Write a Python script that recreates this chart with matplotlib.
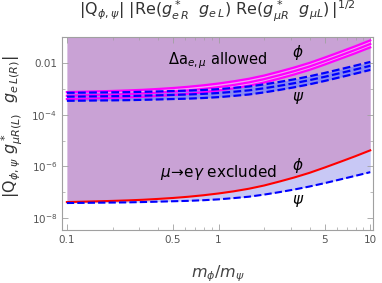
import numpy as np
import matplotlib
matplotlib.use("Agg")
from matplotlib import pyplot as plt
from matplotlib.ticker import FixedLocator, NullFormatter

plt.rcParams['font.family'] = ['DejaVu Sans']
plt.rcParams['mathtext.fontset'] = 'dejavusans'

# mass ratio m_phi / m_psi
ratio = [0.1, 0.126, 0.158, 0.2, 0.251, 0.316, 0.398, 0.501, 0.631, 0.794, 1.0,
         1.259, 1.585, 1.995, 2.512, 3.162, 3.981, 5.012, 6.31, 7.943, 10.0]

# mu -> e gamma bounds (lower curves)
meg_phi = [4.13e-8, 4.27e-8, 4.42e-8, 4.59e-8, 4.80e-8, 5.07e-8, 5.47e-8, 5.96e-8, 6.64e-8, 7.59e-8, 8.91e-8,
           1.08e-7, 1.36e-7, 1.81e-7, 2.57e-7, 3.72e-7, 5.62e-7, 9.02e-7, 1.48e-6, 2.45e-6, 4.17e-6]
meg_psi = [3.80e-8, 3.85e-8, 3.91e-8, 3.96e-8, 4.02e-8, 4.14e-8, 4.29e-8, 4.45e-8, 4.61e-8, 4.88e-8, 5.27e-8,
           5.89e-8, 6.68e-8, 8.04e-8, 1.00e-7, 1.27e-7, 1.66e-7, 2.24e-7, 3.09e-7, 4.27e-7, 5.96e-7]

# Delta a_{e,mu} allowed bands (upper curves): low / mid / high
da_phi_lo = [4.04e-4, 4.17e-4, 4.32e-4, 4.49e-4, 4.69e-4, 4.95e-4, 5.35e-4, 5.82e-4, 6.49e-4, 7.42e-4, 8.71e-4,
             1.055e-3, 1.33e-3, 1.77e-3, 2.51e-3, 3.64e-3, 5.49e-3, 8.81e-3, 1.45e-2, 2.39e-2, 4.07e-2]
da_phi_mid = [5.44e-4, 5.63e-4, 5.83e-4, 6.05e-4, 6.33e-4, 6.68e-4, 7.21e-4, 7.86e-4, 8.75e-4, 1.00e-3, 1.175e-3,
              1.42e-3, 1.79e-3, 2.39e-3, 3.39e-3, 4.90e-3, 7.41e-3, 1.19e-2, 1.95e-2, 3.23e-2, 5.50e-2]
da_phi_hi = [7.52e-4, 7.77e-4, 8.04e-4, 8.35e-4, 8.73e-4, 9.23e-4, 9.95e-4, 1.085e-3, 1.21e-3, 1.38e-3, 1.62e-3,
             1.97e-3, 2.47e-3, 3.29e-3, 4.68e-3, 6.77e-3, 1.02e-2, 1.64e-2, 2.69e-2, 4.46e-2, 7.59e-2]
da_psi_lo = [3.47e-4, 3.51e-4, 3.57e-4, 3.61e-4, 3.67e-4, 3.78e-4, 3.91e-4, 4.06e-4, 4.20e-4, 4.45e-4, 4.81e-4,
             5.37e-4, 6.09e-4, 7.33e-4, 9.12e-4, 1.16e-3, 1.51e-3, 2.04e-3, 2.82e-3, 3.89e-3, 5.44e-3]
da_psi_mid = [5.01e-4, 5.08e-4, 5.15e-4, 5.22e-4, 5.30e-4, 5.46e-4, 5.66e-4, 5.87e-4, 6.08e-4, 6.43e-4, 6.95e-4,
              7.76e-4, 8.81e-4, 1.06e-3, 1.32e-3, 1.67e-3, 2.19e-3, 2.95e-3, 4.07e-3, 5.63e-3, 7.86e-3]
da_psi_hi = [7.08e-4, 7.17e-4, 7.28e-4, 7.37e-4, 7.49e-4, 7.71e-4, 7.99e-4, 8.29e-4, 8.58e-4, 9.09e-4, 9.81e-4,
             1.10e-3, 1.24e-3, 1.50e-3, 1.86e-3, 2.36e-3, 3.09e-3, 4.17e-3, 5.75e-3, 7.95e-3, 1.11e-2]

x_ticks = [0.1, 0.5, 1, 5, 10]
x_ticklabels = ['0.1', '0.5', '1', '5', '10']
y_ticks = [1e-8, 1e-6, 1e-4, 1e-2]
y_ticklabels = [r'$10^{-8}$', r'$10^{-6}$', r'$10^{-4}$', '0.01']

YMAX = 0.102
YMIN = 3.4e-9

fig = plt.figure(figsize=(3.82, 2.83), dpi=100)
ax = fig.add_axes([0.162, 0.187, 0.815, 0.682])

purple = '#c9a2d5'
lightblue = '#c8c8f5'

# excluded region above the mu->e gamma bound for phi
ax.fill_between(ratio, meg_phi, YMAX, color=purple, lw=0)
ax.fill_between(ratio, meg_psi, meg_phi, color=lightblue, lw=0)

# allowed bands
ax.fill_between(ratio, da_phi_lo, da_phi_hi, color='#f0a0f0', lw=0)
ax.fill_between(ratio, da_psi_lo, da_psi_hi, color='#8a8af0', lw=0)
for ys in (da_phi_lo, da_phi_mid, da_phi_hi):
    ax.plot(ratio, ys, color='#ff00ff', lw=1.6)
for ys in (da_psi_lo, da_psi_mid, da_psi_hi):
    ax.plot(ratio, ys, color='#0000ff', lw=1.6, ls=(0, (3.5, 1.5)))

ax.plot(ratio, meg_phi, color='#ff0000', lw=1.5)
ax.plot(ratio, meg_psi, color='#0000ff', lw=1.5, ls=(0, (3.5, 1.5)))

ax.set_xscale('log')
ax.set_yscale('log')
ax.set_xlim(0.0927, 10.46)
ax.set_ylim(YMIN, YMAX)

ax.xaxis.set_major_locator(FixedLocator(x_ticks))
ax.set_xticklabels(x_ticklabels)
ax.xaxis.set_minor_locator(FixedLocator([0.2, 0.3, 0.4, 0.6, 0.7, 0.8, 0.9, 2, 3, 4, 6, 7, 8, 9]))
ax.xaxis.set_minor_formatter(NullFormatter())
ax.yaxis.set_major_locator(FixedLocator(y_ticks))
ax.set_yticklabels(y_ticklabels)
ax.yaxis.set_minor_locator(FixedLocator([1e-7, 1e-5, 1e-3, 1e-1]))
ax.yaxis.set_minor_formatter(NullFormatter())

for s in ax.spines.values():
    s.set_color('#a0a0a0')
    s.set_linewidth(0.8)
ax.tick_params(which='both', direction='in', top=True, right=True, colors='#a0a0a0',
               labelcolor='#555555', labelsize=7.5)
ax.tick_params(which='major', length=4, width=0.6)
ax.tick_params(which='minor', length=2.5, width=0.5)

ax.text(0.464, 0.012, r'$\Delta\mathrm{a}_{e,\mu}$ allowed', fontsize=10.5, ha='left', va='center')
ax.text(3.35, 0.026, r'$\phi$', fontsize=11, ha='center', va='center')
ax.text(3.35, 4.3e-4, r'$\psi$', fontsize=11, ha='center', va='center')
ax.text(0.411, 5.9e-7, r'$\mu\!\rightarrow\!\mathrm{e}\gamma$ excluded', fontsize=11, ha='left', va='center')
ax.text(3.35, 1.05e-6, r'$\phi$', fontsize=11, ha='center', va='center')
ax.text(3.35, 4.4e-8, r'$\psi$', fontsize=11, ha='center', va='center')

fig.text(0.568, 0.958, r'$|\mathrm{Q}_{\phi,\psi}|\ |\mathrm{Re}(g^*_{e\,R}\ \ g_{e\,L})\ \mathrm{Re}(g^*_{\mu R}\ \ g_{\mu L})\,|^{1/2}$',
         ha='center', va='center', fontsize=11.5, color='#333333')
ax.set_xlabel(r'$m_\phi/m_\psi$', fontsize=11.5, color='#444444')
ax.xaxis.set_label_coords(0.50, -0.175)
ax.set_ylabel(r'$|\mathrm{Q}_{\phi,\psi}\ g^*_{\mu R(L)}\ \ g_{e\,L(R)}|$', fontsize=11.5, color='#333333')
ax.yaxis.set_label_coords(-0.118, 0.534)

fig.savefig('out.png', dpi=100)
